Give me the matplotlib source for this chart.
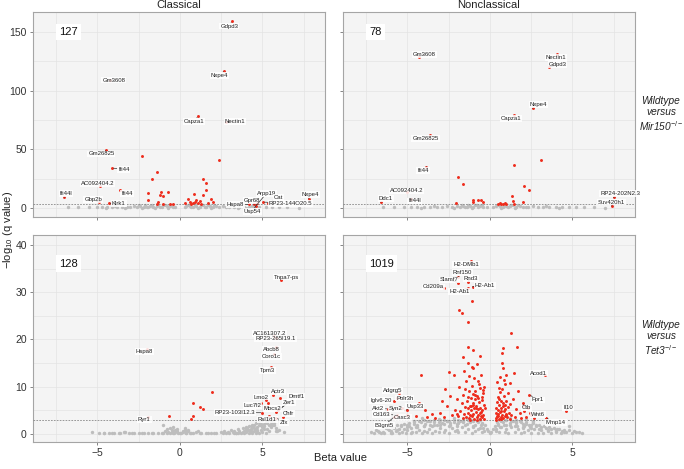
import matplotlib
matplotlib.use("Agg")
import matplotlib.pyplot as plt

plt.rcParams['font.family'] = ['Liberation Sans', 'DejaVu Sans']
plt.rcParams['mathtext.fontset'] = 'custom'
plt.rcParams['mathtext.rm'] = 'Liberation Sans'
plt.rcParams['mathtext.it'] = 'Liberation Sans:italic'

# ---------------- data ----------------
columns = ["Classical", "Nonclassical"]
rows = ["Mir150", "Tet3"]
counts = {"TL": "127", "TR": "78", "BL": "128", "BR": "1019"}
threshold = 3

# Top-left: Classical, Mir150
tl_gray_x = [-6.8, -6.2, -5.5, -5.0, -4.7, -4.4, -4.1, -3.8, -3.5, -3.2, -3.0, -2.8, -2.6, -2.4, -2.2,
             -2.0, -1.8, -1.6, -1.4, -1.2, -1.0, -0.8, -0.6, -0.4, -0.3, 0.3, 0.4, 0.6, 0.8, 1.0, 1.2,
             1.4, 1.6, 1.8, 2.0, 2.2, 2.4, 2.6, 2.8, 3.0, 3.3, 3.6, 3.9, 4.2, 4.5, 4.8, 5.2, 5.6, 6.0,
             6.5, 7.2, -2.5, -2.1, -1.7, -1.3, -0.9, -0.5, 0.5, 0.9, 1.3, 1.7, 2.1, -3.9, 3.1, 4.4,
             -2.3, -1.9, -1.5, -1.1, -0.7, 0.7, 1.1, 1.5, 1.9, -4.5, -3.3, 3.5, 4.0]
tl_gray_y = [0.5, 0.8, 0.4, 0.9, 1.2, 0.6, 0.8, 1.0, 0.5, 1.1, 0.7, 1.5, 0.9, 1.8, 1.2,
             0.6, 2.0, 1.1, 1.6, 0.8, 2.2, 1.3, 1.9, 1.0, 0.6, 0.7, 1.4, 2.1, 1.0, 1.8, 1.2,
             2.4, 0.9, 1.6, 1.1, 1.9, 0.7, 1.3, 0.8, 1.0, 0.6, 1.2, 0.5, 0.9, 0.4, 1.1, 0.5, 0.7, 0.4,
             0.6, 0.3, 2.5, 2.7, 2.6, 2.8, 2.5, 2.9, 2.6, 2.8, 2.5, 2.7, 2.4, 2.0, 2.2, 1.8,
             0.3, 0.4, 0.3, 0.4, 0.3, 0.4, 0.3, 0.4, 0.3, 0.2, 0.3, 0.2, 0.3]
tl_red_x = [-2.3, -1.4, -1.7, 2.35, 1.4, 1.6, 1.6, -1.9, -1.15, -0.7, -1.2, -1.0, 1.4, 0.85, 0.5,
            1.0, 1.2, 1.9, 2.0, -1.95, -1.3, -1.4, -1.0, -0.6, -0.4, 0.3, 0.6, 0.8, 1.1, 1.3, 1.7, 0.7, 0.9]
tl_red_y = [44, 31, 25, 41, 25, 21, 15, 13, 14, 14, 11, 10, 11, 12, 8,
            7, 6, 8, 5, 7, 5, 3.5, 3.5, 3.3, 3.3, 4.5, 5.4, 3.9, 3.9, 3.3, 4.5, 3.4, 5.0]
tl_genes = ["Gdpd3", "Nxpe4", "Gm3608", "Capza1", "Nectin1", "Gm26825", "Ifi44", "AC092404.2",
            "Ifi44l", "Ifi44", "Gbp2b", "Klrk1", "Hspa8", "Gpr68", "Arpp19", "Usp54", "Cat",
            "RP23-144O20.5", "Nxpe4"]
tl_gene_x = [3.15, 2.7, -4.25, 1.1, 2.8, -4.5, -4.1, -4.85, -7.0, -3.6, -4.9, -4.3, 4.2, 4.5, 4.6,
             4.7, 5.35, 5.05, 7.8]
tl_gene_y = [159, 117, 109, 78, 73, 49, 34, 19, 9, 15, 5, 4, 3, 3, 1.5, 4, 4, 5, 8]

# Top-right: Nonclassical, Mir150
tr_gray_x = [-6.5, -5.8, -5.2, -4.8, -4.4, -4.0, -3.6, -3.2, -2.9, -2.6, -2.3, -2.0, -1.8, -1.6, -1.4,
             -1.2, -1.0, -0.8, -0.6, -0.4, -0.2, 0.2, 0.4, 0.6, 0.8, 1.0, 1.2, 1.4, 1.6, 1.8, 2.0,
             2.3, 2.6, 2.9, 3.2, 3.6, 4.0, 4.4, 4.8, 5.2, 5.7, 6.3, 7.0, -1.7, -1.3, -0.9, -0.5,
             0.5, 0.9, 1.3, 1.7, -3.4, 3.4, -2.2, -1.5, -1.1, -0.7, 0.7, 1.1, 1.5, 2.2, -4.2, 4.2]
tr_gray_y = [0.4, 0.6, 0.9, 0.5, 1.0, 0.7, 1.2, 0.6, 1.0, 1.4, 0.8, 1.6, 1.0, 2.0, 1.2,
             1.8, 0.9, 2.2, 1.4, 1.0, 0.6, 0.7, 1.5, 2.1, 1.1, 1.9, 1.3, 2.3, 0.9, 1.7, 1.2,
             0.8, 1.3, 0.7, 1.0, 0.6, 0.9, 0.5, 0.8, 0.4, 0.6, 0.4, 0.3, 2.6, 2.8, 2.5, 2.7,
             2.6, 2.8, 2.5, 2.4, 2.0, 1.8, 0.3, 0.4, 0.3, 0.4, 0.3, 0.4, 0.3, 0.4, 0.3, 0.2]
tr_red_x = [3.1, 1.45, -1.9, -1.6, 2.05, 2.4, 1.35, 1.4, -1.0, -0.7, -0.55, -1.05, -0.4, -2.05, 2.0,
            0.5, 0.6, 0.7, 0.8, 1.0, 1.45, 0.9]
tr_red_y = [41, 37, 26, 20, 19, 15, 10, 6, 7, 7, 7, 5, 5, 4, 5,
            3.5, 4.0, 3.3, 3.5, 3.0, 3.5, 4.2]
tr_genes = ["Gm3608", "Nectin1", "Gdpd3", "Nxpe4", "Capza1", "Gm26825", "Ifi44", "AC092404.2",
            "Ifi44l", "Ddc1", "RP24-202N2.3", "Suv420h1"]
tr_gene_x = [-4.27, 4.1, 3.6, 2.6, 1.45, -3.6, -3.85, -5.0, -4.75, -6.6, 7.5, 7.4]
tr_gene_y = [129, 131, 120, 85, 79, 62, 35, 14, 8, 5, 9, 1.5]

# Bottom-left: Classical, Tet3
bl_gray_x = [-5.3, -4.9, -4.6, -4.3, -4.0, -3.7, -3.4, -3.1, -2.8, -2.5, -2.2, -1.9, -1.6, -1.3, -1.0,
             -0.9, -0.8, -0.7, -0.6, -0.5, -0.4, -0.3, -0.2, -0.1, 0.1, 0.2, 0.3, 0.4, 0.5, 0.6,
             0.8, 1.0, 1.3, 1.6, 1.9, 2.2, 2.5, 2.7, 2.9, 3.1, 3.3, 3.5, 3.6, 3.8, 3.9, 4.0, 4.1,
             4.2, 4.3, 4.4, 4.5, 4.6, 4.7, 4.8, 4.9, 5.0, 5.1, 5.2, 5.3, 5.4, 5.5, 5.6, 5.7, 5.8,
             3.7, 4.0, 4.3, 4.5, 4.7, 4.9, 5.1, 5.3, 5.5, 4.2, 4.6, 5.0, 5.4, 5.2, 4.8, 4.4, 3.4,
             3.0, 2.6, 6.0, 6.3, -0.6, -0.4, -0.2, 0.2, 0.4, -1.0, 1.1, -3.3, 5.6, 5.9,
             3.2, 3.4, 3.6, 3.8, 4.0, 4.2, 4.4, 4.6, 4.8, 5.0, 5.2, 5.4, 5.6, 5.8, 4.1, 4.3, 4.5,
             4.7, 4.9, 5.1, 5.3, 5.5, 5.7, 3.9, 3.5, -4.6, -4.1, -3.6, -2.9, -2.3, -1.7, -1.1,
             -0.75, -0.35, 0.0, 0.35, 0.7, 1.2, 1.7, 2.1, 2.8, 3.3, -0.5, 0.5, -0.3, 0.3]
bl_gray_y = [0.5, 0.2, 0.3, 0.1, 0.2, 0.3, 0.4, 0.1, 0.2, 0.1, 0.3, 0.2, 0.1, 0.3, 0.2,
             0.6, 1.0, 0.5, 1.3, 0.8, 1.5, 0.4, 1.0, 0.3, 0.2, 0.7, 1.2, 0.5, 0.9, 0.3,
             0.2, 0.4, 0.1, 0.3, 0.2, 0.3, 0.4, 0.6, 0.5, 0.8, 0.6, 1.0, 0.4, 1.2, 0.7, 1.5, 0.9,
             1.7, 1.1, 2.0, 1.3, 2.3, 1.5, 2.6, 1.8, 2.9, 2.1, 3.2, 2.4, 3.4, 2.6, 3.0, 2.0, 1.2,
             0.2, 0.5, 0.4, 0.7, 0.6, 0.9, 1.0, 1.1, 1.4, 0.3, 0.3, 0.4, 0.6, 0.2, 0.1, 0.2, 0.2,
             0.1, 0.2, 0.8, 0.5, 0.2, 0.3, 0.6, 0.4, 0.2, 1.8, 0.6, 0.5, 1.8, 0.6,
             0.4, 0.3, 0.7, 0.5, 1.0, 0.8, 1.4, 1.1, 2.0, 1.5, 2.5, 2.0, 2.2, 0.6, 1.2, 0.6, 1.8,
             0.9, 2.2, 1.6, 2.8, 1.9, 2.4, 0.3, 0.2, 0.1, 0.1, 0.1, 0.1, 0.1, 0.1, 0.1,
             0.1, 0.1, 0.2, 0.1, 0.1, 0.1, 0.1, 0.1, 0.1, 0.1, 0.5, 0.6, 0.9, 0.8]
bl_red_x = [1.95, 0.8, 1.25, 1.4, -0.65, 0.8, 0.7, 5.35, 6.05]
bl_red_y = [8.8, 6.5, 5.7, 5.3, 3.8, 3.9, 3.2, 6.5, 7.6]
bl_genes = ["Tnpa7-ps", "AC161307.2", "RP23-265I19.1", "Abcb8", "Coro1c", "Tpm3", "Hspa8",
            "Actr3", "Lmo2", "Dmtf1", "Zer1", "Luc7l2", "Mocs2", "RP23-103I12.3", "Chfr",
            "Rsl1d1", "Zfx", "Ryr1"]
bl_gene_x = [6.15, 5.7, 5.85, 5.8, 5.7, 5.55, -2.0, 5.65, 5.2, 5.95, 5.85, 4.95, 5.15, 5.0, 6.25,
             5.4, 5.85, -1.9]
bl_gene_y = [32.6, 20.7, 20.3, 18.5, 17.0, 14.2, 18.0, 8.3, 7.2, 5.0, 4.7, 6.5, 5.8, 4.5, 3.6,
             3.8, 3.4, 3.6]

# Bottom-right: Nonclassical, Tet3
br_gray_x = [-7.2, -6.8, -6.5, -6.2, -6.0, -5.8, -5.6, -5.4, -5.2, -5.0, -4.8, -4.6, -4.4, -4.2, -4.0,
             -3.8, -3.6, -3.4, -3.2, -3.0, -2.8, -2.6, -2.4, -2.2, -2.0, -1.8, -1.6, -1.4, -1.2, -1.0,
             -0.8, -0.6, -0.45, -0.3, -0.2, -0.1, 0.0, 0.1, 0.2, 0.3, 0.45, 0.6, 0.8, 1.0, 1.2, 1.4,
             1.6, 1.8, 2.0, 2.2, 2.4, 2.6, 2.8, 3.0, 3.3, 3.6, 3.9, 4.2, 4.5, 4.8, 5.1, 5.4,
             -6.4, -6.0, -5.7, -5.3, -5.0, -4.7, -4.3, -4.0, -3.7, -3.3, -3.0, -2.7, -2.3, -2.0, -1.7,
             -1.3, -1.0, -0.7, -0.4, 0.4, 0.7, 1.0, 1.3, 1.7, 2.0, 2.3, 2.7, 3.1, 3.5, 4.0, 4.6,
             -5.9, -5.5, -5.1, -4.8, -4.5, -4.1, -3.8, -3.5, -3.1, -2.8, -2.5, -2.1, -1.9, -1.5, -1.1,
             -0.9, -0.5, -0.35, 0.35, 0.55, 0.9, 1.1, 1.5, 1.9, 2.1, 2.5, 2.9, 3.2, 3.7, 4.3,
             -5.4, -4.9, -4.4, -3.9, -3.4, -2.9, -2.4, -1.9, -1.4, -0.9, -0.55, 0.5, 0.85, 1.25, 1.65,
             2.05, 2.45, -4.6, -3.6, -2.6, -1.6, -0.65, 0.65, 1.6, 2.6, -4.1, -3.1, -2.2, -1.2, 1.2, 2.2,
             -7.0, -6.6, 5.0, 5.6, 4.8, 4.1, 3.8, -6.9,
             -6.3, -5.9, -5.6, -5.2, -4.9, -4.6, -4.3, -4.0, -3.7, -3.4, -3.1, -2.8, -2.5, -2.2, -1.9,
             -1.6, -1.3, -1.0, -0.7, -0.5, 0.5, 0.7, 1.0, 1.3, 1.6, 1.9, 2.2, 2.5, 2.8, 3.1, 3.4,
             3.7, 4.0, 4.4,
             -6.7, -6.1, -5.5, -5.0, -4.5, -4.0, -3.5, -3.0, -2.5, -2.0, -1.5, -1.0, -0.6, 0.6, 1.0,
             1.5, 2.0, 2.5, 3.0, 3.5, 4.0, 4.5, 5.2]
br_gray_y = [0.4, 0.7, 0.5, 1.0, 0.6, 1.3, 0.8, 1.6, 1.0, 1.9, 1.2, 2.2, 1.4, 2.5, 1.6,
             2.8, 1.8, 2.6, 2.0, 2.9, 2.2, 2.7, 2.4, 3.0, 2.1, 2.8, 2.5, 3.1, 2.6, 2.9,
             2.7, 3.0, 2.4, 1.8, 1.1, 0.6, 0.3, 0.5, 1.0, 1.7, 2.5, 2.9, 2.6, 3.0, 2.4, 2.8,
             2.3, 2.7, 2.2, 2.5, 2.0, 2.3, 1.8, 2.0, 1.6, 1.4, 1.3, 1.1, 0.9, 0.8, 0.6, 0.5,
             0.3, 0.2, 0.6, 0.4, 0.8, 0.5, 0.9, 0.6, 1.1, 0.7, 1.2, 0.8, 1.3, 0.9, 1.4,
             1.0, 1.5, 1.1, 1.2, 1.0, 1.4, 1.1, 1.5, 1.0, 1.3, 0.9, 1.1, 0.8, 0.7, 0.5, 0.4,
             0.1, 0.2, 0.3, 0.2, 0.4, 0.3, 0.5, 0.3, 0.4, 0.5, 0.3, 0.6, 0.4, 0.5, 0.3,
             0.6, 0.5, 0.7, 0.6, 0.4, 0.5, 0.3, 0.5, 0.3, 0.4, 0.2, 0.3, 0.2, 0.2, 0.2,
             1.9, 1.6, 2.0, 2.2, 1.9, 2.4, 2.0, 2.3, 2.1, 2.0, 1.8, 1.9, 1.9, 2.0, 1.7,
             1.6, 1.5, 2.7, 2.7, 2.8, 3.0, 3.2, 3.1, 2.9, 2.8, 3.3, 3.2, 3.3, 3.2, 3.3, 3.2,
             0.1, 0.2, 0.2, 0.3, 1.6, 1.0, 2.3, 0.9,
             1.2, 1.5, 1.8, 2.1, 2.4, 2.6, 2.8, 2.9, 2.7, 2.9, 2.6, 2.9, 2.8, 2.6, 2.9,
             2.7, 2.9, 2.8, 2.6, 2.2, 2.2, 2.7, 2.9, 2.7, 2.6, 2.5, 2.1, 1.9, 1.7, 1.5, 1.2,
             1.0, 0.8, 0.6,
             0.5, 0.9, 1.1, 1.4, 1.5, 1.7, 1.6, 1.8, 1.6, 1.7, 1.8, 1.6, 1.3, 1.4, 1.8,
             1.6, 1.5, 1.3, 1.0, 0.9, 0.7, 0.5, 0.4]
br_red_x = [-0.35, -0.4, -0.45, -0.38, -0.5, -0.55, -0.6, -0.48, -0.62, -0.66, -0.7, -0.72, -0.75, -0.8,
            -0.82, -0.85, -0.88, -0.9, -0.93, -0.95, -1.0, -1.02, -1.05, -1.08, -1.1, -1.12, -1.15,
            -1.2, -1.22, -1.25, -1.28, -1.3, -1.35, -1.38, -1.42, -1.45, -1.5, -1.55, -1.6, -1.65,
            -1.7, -1.78, -1.85, -1.9, -2.0, -2.1, -2.2, -2.3, -2.45, -2.6, -2.8, -3.0, -3.3, -3.5,
            -3.8, -4.15, -4.3, -4.5, -0.42, -0.58, -0.7, -0.52, -0.95, -1.0, -1.1, -1.3, -1.65, -1.3,
            -1.05, -1.35, -1.7, -1.85, -1.1, -0.6, -0.8, -1.55, -1.25, -0.65, -0.36, -0.45, -0.32,
            -0.55, -0.75, -1.2, -0.62, -0.85, -1.0, -1.15, -1.32, -1.48, -0.7, -0.92, -0.4, -2.4,
            -2.7, -3.9, -2.9, -2.0,
            0.35, 0.38, 0.4, 0.42, 0.45, 0.48, 0.5, 0.52, 0.55, 0.58, 0.6, 0.62, 0.65, 0.68, 0.7,
            0.72, 0.75, 0.78, 0.8, 0.82, 0.85, 0.88, 0.9, 0.92, 0.95, 0.98, 1.0, 1.05, 1.08, 1.1,
            1.15, 1.2, 1.25, 1.3, 1.4, 1.5, 1.6, 1.7, 1.8, 1.9, 2.0, 2.1, 2.2, 2.3, 2.5, 2.7, 0.6,
            0.75, 0.8, 0.75, 0.8, 1.65, 1.3, 0.45, 1.0, 1.2, 0.55, 0.85, 1.45, 0.4, 0.5, 0.65, 0.7,
            0.9, 1.0, 0.58]
br_red_y = [3.2, 4.1, 5.0, 6.2, 3.6, 4.6, 5.6, 7.1, 3.1, 6.8, 4.0, 5.2, 8.0, 3.5,
            6.0, 4.6, 7.3, 9.1, 3.2, 5.4, 4.3, 6.6, 8.4, 3.7, 10.2, 5.0, 7.7,
            4.1, 6.0, 3.3, 9.0, 5.4, 4.5, 7.0, 3.6, 11.3, 5.8, 4.2, 8.2, 3.4,
            6.5, 4.8, 10.0, 3.9, 7.4, 5.1, 12.5, 4.0, 13.2, 6.0, 3.6, 4.5, 3.3, 4.2,
            3.5, 12.5, 6.5, 3.8, 8.6, 9.8, 11.2, 12.4, 11.8, 13.9, 14.2, 15.0, 16.3, 18.5,
            17.8, 23.7, 25.6, 26.2, 28.2, 16.5, 14.8, 13.4, 12.2, 10.5, 10.0, 7.8, 5.5,
            3.9, 3.0, 3.0, 4.4, 5.6, 6.2, 5.9, 7.9, 9.6, 7.6, 8.2, 9.3, 8.0,
            9.5, 5.0, 7.0, 4.2,
            3.3, 4.5, 5.6, 3.8, 6.8, 4.2, 7.9, 5.1, 3.2, 6.2, 4.6, 8.8, 3.6, 5.5, 7.0,
            4.0, 9.6, 5.9, 3.4, 6.6, 4.8, 8.0, 3.9, 5.3, 10.5, 4.3, 6.9, 3.5, 5.7, 8.6,
            4.5, 3.2, 6.4, 4.0, 7.5, 3.6, 5.2, 9.0, 4.4, 3.3, 6.0, 4.8, 3.5, 5.6, 4.1, 3.4, 12.1,
            15.0, 13.9, 17.2, 18.2, 18.4, 21.4, 11.0, 12.5, 10.8, 9.8, 11.5, 13.0, 3.0, 3.9, 4.9, 3.1,
            6.2, 4.0, 7.3]
br_genes = ["H2-DMb1", "Rnf150", "Slamf7", "Rnd3", "H2-Ab1", "Cd209a", "H2-Ab1", "Acod1", "Adgrg5",
            "Polr3h", "Iglv6-20", "Akt2", "Syn2", "Usp33", "Cd163", "Casc3", "B3gnt5", "Fpr1",
            "Ctb", "Wnt6", "Il10", "Mmp14"]
br_gene_x = [-1.15, -1.9, -1.9, -1.35, -1.05, -2.8, -1.35, 3.35, -5.5, -5.6, -5.8, -6.15, -5.35,
             -5.05, -5.6, -5.05, -5.8, 2.4, 2.0, 2.45, 4.6, 3.4]
br_gene_y = [36.5, 33.3, 32.0, 32.2, 31.2, 30.9, 30.9, 12.5, 8.7, 7.7, 7.0, 5.3, 5.5, 5.1, 4.0, 4.0,
             3.6, 8.3, 6.5, 4.4, 4.9, 3.4]

# ---------------- layout (label text positions, data units) ----------------
tl_text_pos = [(3.0, 155), (2.4, 113), (-4.0, 109), (0.85, 74), (3.35, 74), (-4.75, 46),
               (-3.4, 33), (-5.0, 21), (-6.9, 12), (-3.2, 12), (-5.25, 7), (-3.7, 4), (3.35, 3),
               (4.4, 6.5), (5.25, 12.5), (4.4, -3), (6.0, 9), (6.7, 4), (7.9, 11.5)]
tr_text_pos = [(-3.95, 131), (4.0, 128), (4.1, 122), (2.95, 88), (1.3, 76), (-3.9, 59), (-4.05, 32),
               (-5.05, 14.5), (-4.55, 6), (-6.3, 8), (7.9, 12.5), (7.35, 5)]
bl_text_pos = [(6.45, 33.2), (5.45, 21.3), (5.8, 20.1), (5.55, 17.9), (5.55, 16.4), (5.3, 13.5),
               (-2.15, 17.4), (5.95, 8.9), (4.95, 7.8), (7.05, 7.9), (6.6, 6.7), (4.4, 6.0),
               (5.6, 5.4), (3.35, 4.5), (6.6, 4.3), (5.3, 3.0), (6.3, 2.5), (-2.15, 3.1)]
br_text_pos = [(-1.45, 35.8), (-1.65, 34.1), (-2.45, 32.6), (-1.15, 32.9), (-0.3, 31.4),
               (-3.4, 31.1), (-1.85, 30.2), (2.95, 12.9), (-5.9, 9.2), (-5.15, 7.6), (-6.6, 7.0),
               (-6.75, 5.4), (-5.7, 5.3), (-4.55, 5.9), (-6.55, 4.2), (-5.3, 3.5), (-6.4, 1.8),
               (2.9, 7.2), (2.2, 5.5), (2.9, 4.1), (4.75, 5.5), (4.0, 2.4)]

red = '#ee2c1c'
grey = '#bdbdbd'

fig = plt.figure(figsize=(6.84, 4.69), dpi=100)
W = 292 / 684
pos = {
    "TL": [33 / 684, 1 - 217 / 469, W, 205 / 469],
    "TR": [343 / 684, 1 - 217 / 469, W, 205 / 469],
    "BL": [33 / 684, 1 - 442 / 469, W, 207 / 469],
    "BR": [343 / 684, 1 - 442 / 469, W, 207 / 469],
}
panels = {
    "TL": (tl_gray_x, tl_gray_y, tl_red_x, tl_red_y, tl_genes, tl_gene_x, tl_gene_y, tl_text_pos),
    "TR": (tr_gray_x, tr_gray_y, tr_red_x, tr_red_y, tr_genes, tr_gene_x, tr_gene_y, tr_text_pos),
    "BL": (bl_gray_x, bl_gray_y, bl_red_x, bl_red_y, bl_genes, bl_gene_x, bl_gene_y, bl_text_pos),
    "BR": (br_gray_x, br_gray_y, br_red_x, br_red_y, br_genes, br_gene_x, br_gene_y, br_text_pos),
}

for key, (gx, gy, rx, ry, genes, gxx, gyy, tpos) in panels.items():
    ax = fig.add_axes(pos[key])
    ax.set_facecolor('#f4f4f4')
    top = key[0] == "T"
    left = key[1] == "L"
    ax.set_xlim(-8.9, 8.8)
    if top:
        ax.set_ylim(-7.7, 167)
        ax.set_yticks([0, 50, 100, 150])
        ax.set_yticks([25, 75, 125], minor=True)
        cnt_y = 150
    else:
        ax.set_ylim(-1.7, 42.1)
        ax.set_yticks([0, 10, 20, 30, 40])
        ax.set_yticks([5, 15, 25, 35], minor=True)
        cnt_y = 36
    ax.set_xticks([-5, 0, 5])
    ax.set_xticklabels(['\u22125', '0', '5'])
    ax.set_xticks([-7.5, -2.5, 2.5, 7.5], minor=True)
    ax.grid(True, which='both', color='#e3e3e3', lw=0.5, zorder=0)
    ax.set_axisbelow(True)
    for s in ax.spines.values():
        s.set_color('#a5a5a5')
        s.set_linewidth(0.8)
    ax.tick_params(which='major', length=2.5, width=0.5, color='#555555', labelsize=7.5,
                   labelcolor='#333333', pad=2)
    ax.tick_params(which='minor', length=0)
    if not left:
        ax.set_yticklabels([])
    if top:
        ax.set_xticklabels([])

    ax.scatter(gx, gy, s=6, c=grey, linewidths=0, zorder=2)
    ax.axhline(threshold, color='#888888', lw=0.6, ls=(0, (2, 1.5)), zorder=3)
    ax.scatter(rx, ry, s=4.5, c=red, linewidths=0, zorder=4)
    ax.scatter(gxx, gyy, s=4.5, c=red, linewidths=0, zorder=4)

    for g, px, py, (tx, ty) in zip(genes, gxx, gyy, tpos):
        ax.annotate(g, xy=(px, py), xytext=(tx, ty), fontsize=4.3, ha='center', va='center',
                    color='#222222', zorder=6,
                    bbox=dict(boxstyle='square,pad=0.15', fc='white', ec='none', alpha=0.85),
                    arrowprops=dict(arrowstyle='-', color='#333333', lw=0.5, shrinkA=0, shrinkB=1))

    ax.text(-7.3, cnt_y, counts[key], fontsize=8, ha='left', va='center', color='#111111', zorder=6,
            bbox=dict(boxstyle='square,pad=0.3', fc='white', ec='none'))

    if top:
        ax.set_title(columns[0] if left else columns[1], fontsize=8, color='#222222', pad=3)

for i, gene in enumerate(rows):
    yc = (114.5 if i == 0 else 338.5)
    fig.text(661 / 684, 1 - yc / 469, "Wildtype\nversus\n" + gene + r"$^{-/-}$",
             fontsize=7.3, style='italic', ha='center', va='center', ma='center',
             color='#222222', linespacing=1.2)

fig.text(8 / 684, 1 - 230 / 469, r"$-$log$_{10}$ (q value)", rotation=90, fontsize=8,
         ha='center', va='center', color='#222222')
fig.text(340 / 684, 1 - 458 / 469, "Beta value", fontsize=8, ha='center', va='center',
         color='#222222')

fig.savefig("out.png", dpi=100)
